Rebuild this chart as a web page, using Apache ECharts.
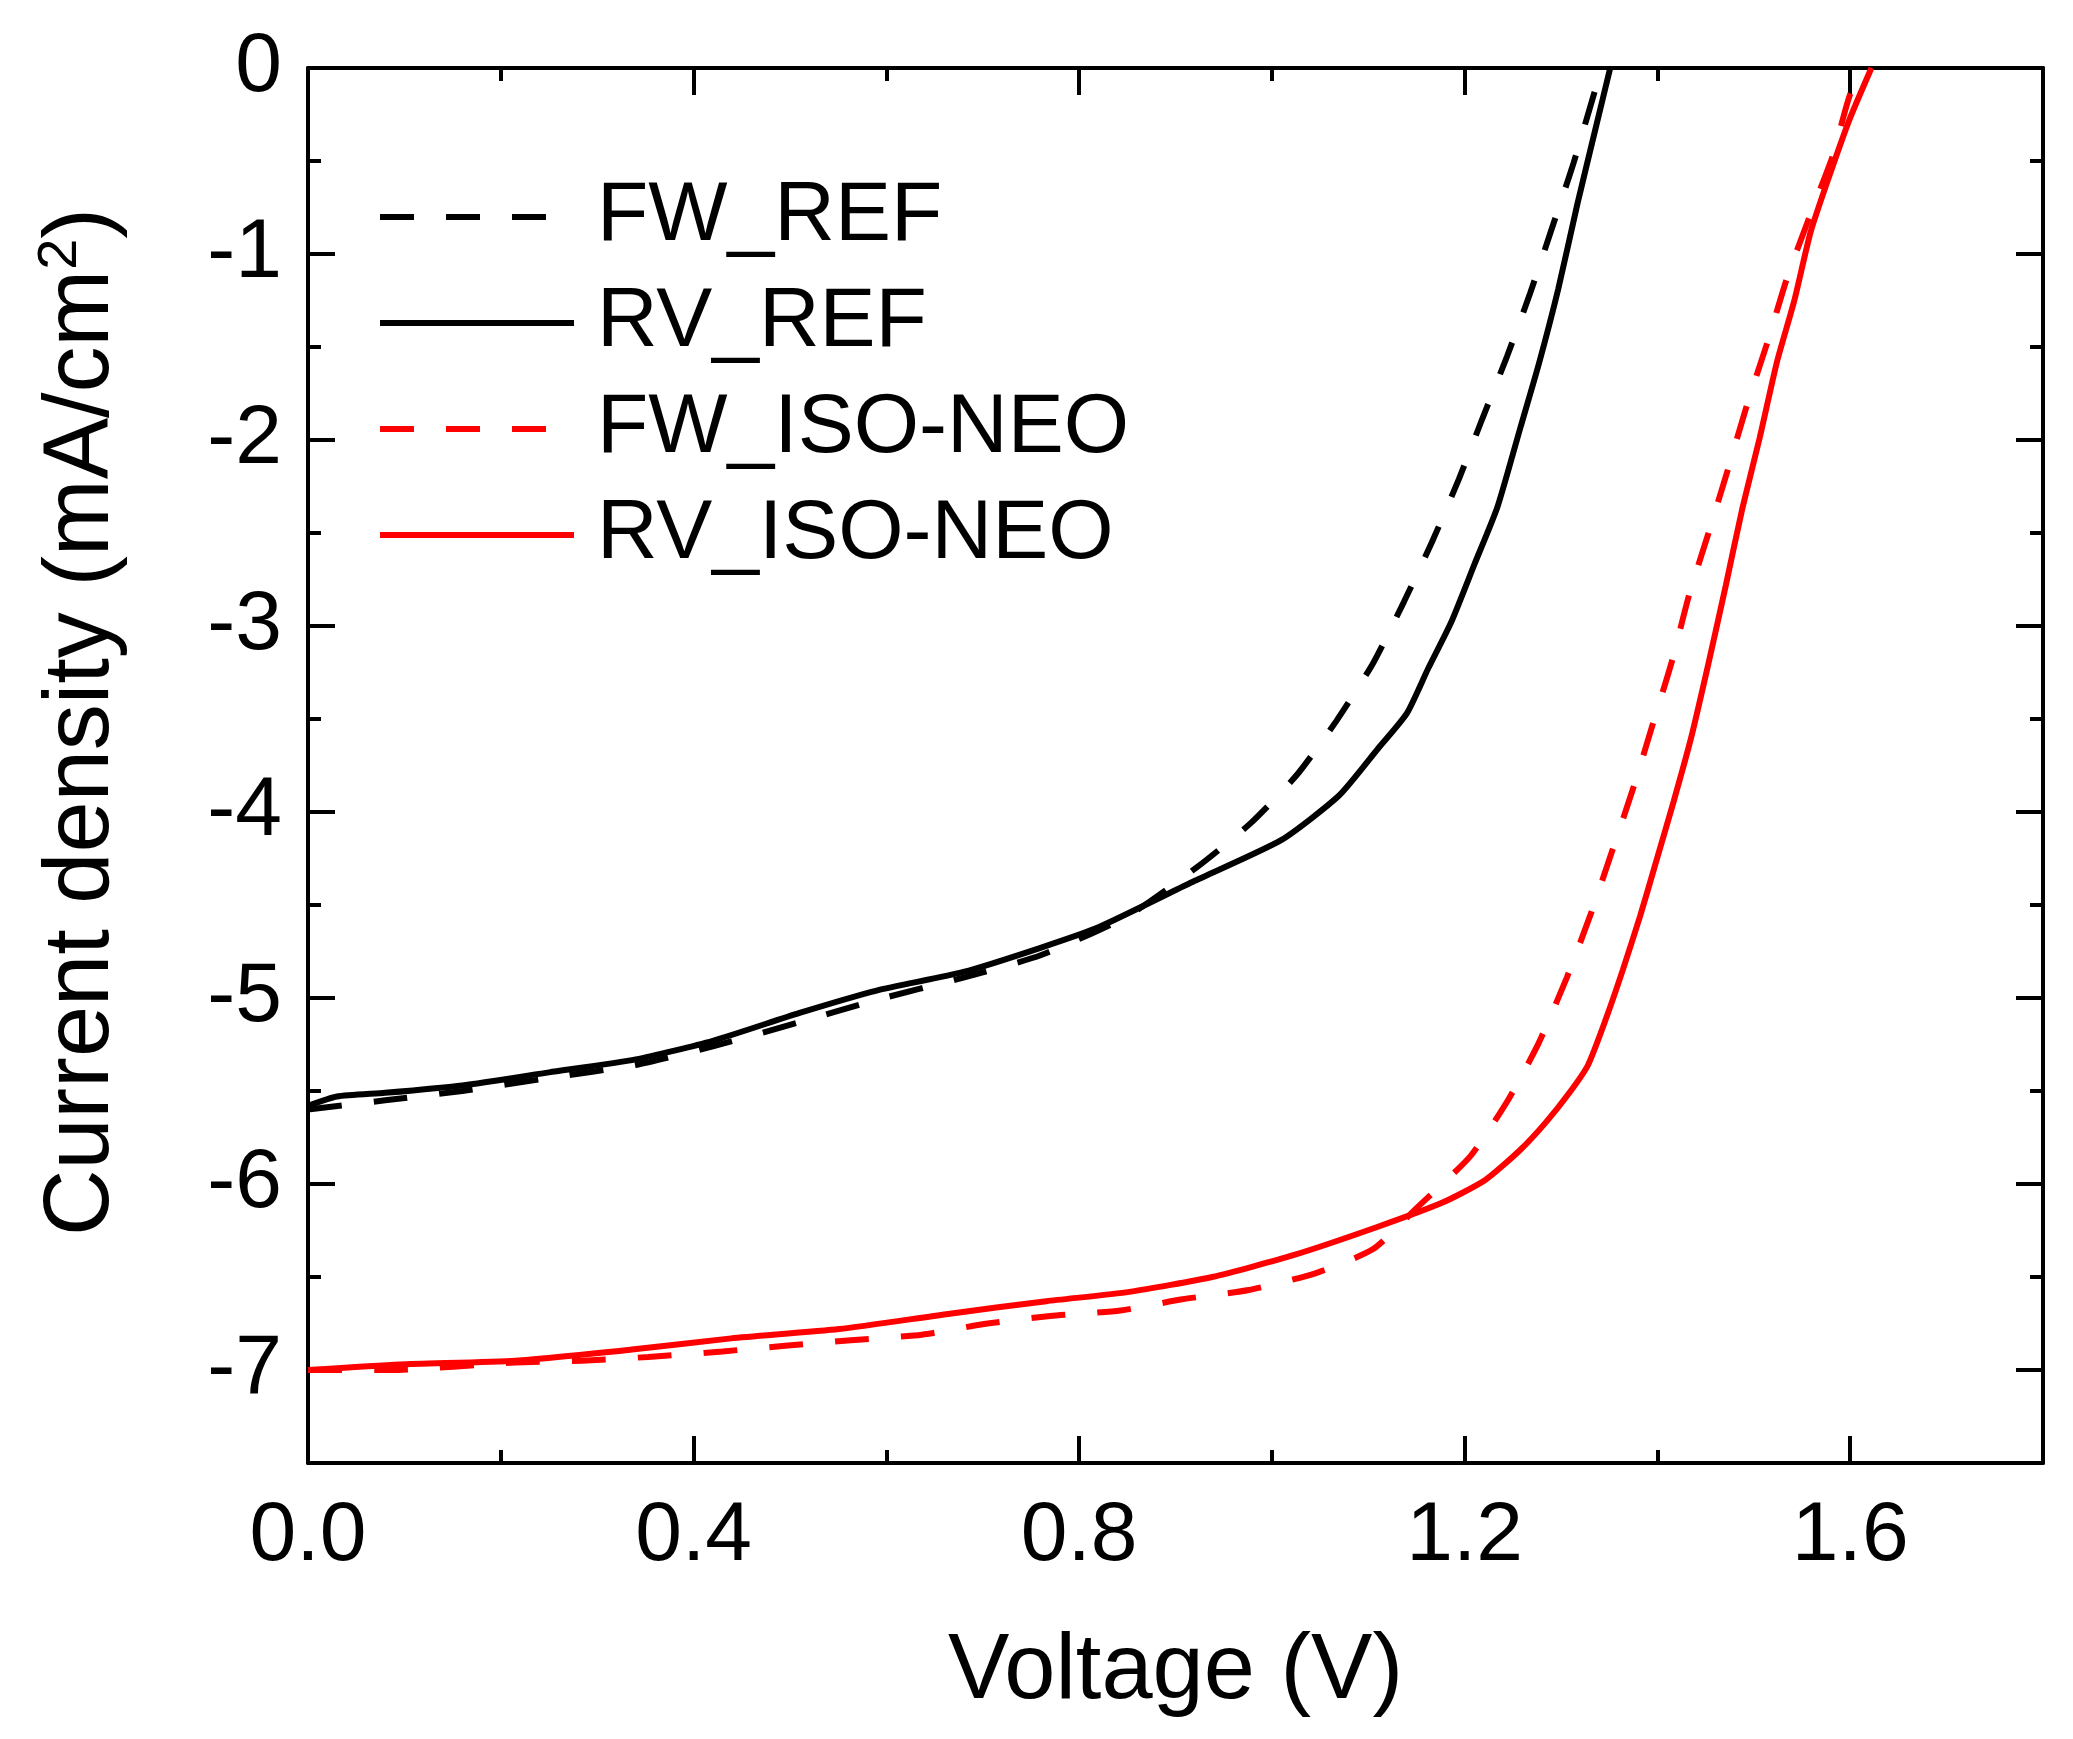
<!DOCTYPE html>
<html>
<head>
<meta charset="utf-8">
<script src="https://cdn.jsdelivr.net/npm/echarts@6/dist/echarts.min.js"></script>
<style>
    html, body { margin:0; padding:0; background:#fff; }
    #chart { width:2073px; height:1739px; }
</style>
</head>
<body>
<div id="chart"></div>
<script>
const FONT = '"Liberation Sans", Arial, sans-serif';

// tick labels
const xTicks = [0, 0.4, 0.8, 1.2, 1.6];
const yTicks = [-7, -6, -5, -4, -3, -2, -1, 0];

// FW_REF (black dashed)
const fwRefV = [0, 0.08, 0.16, 0.25, 0.34, 0.42, 0.51, 0.59, 0.68, 0.76, 0.85, 0.924, 0.978, 1.026, 1.067, 1.105, 1.137, 1.166, 1.194, 1.218, 1.244, 1.268, 1.29, 1.313, 1.342];
const fwRefJ = [-5.60, -5.55, -5.50, -5.43, -5.36, -5.26, -5.13, -5.01, -4.89, -4.77, -4.56, -4.29, -4.06, -3.80, -3.51, -3.20, -2.87, -2.55, -2.21, -1.89, -1.55, -1.21, -0.87, -0.51, 0];

// RV_REF (black solid)
const rvRefV = [0, 0.03, 0.08, 0.16, 0.25, 0.34, 0.42, 0.51, 0.59, 0.68, 0.76, 0.82, 0.92, 1.01, 1.07, 1.11, 1.14, 1.162, 1.186, 1.21, 1.234, 1.258, 1.277, 1.297, 1.317, 1.337, 1.351];
const rvRefJ = [-5.58, -5.53, -5.51, -5.47, -5.40, -5.33, -5.23, -5.08, -4.96, -4.86, -4.73, -4.62, -4.37, -4.15, -3.91, -3.66, -3.47, -3.23, -2.98, -2.67, -2.36, -1.93, -1.59, -1.19, -0.73, -0.30, 0];

// FW_ISO-NEO (red dashed)
const fwIsoV = [0, 0.086, 0.215, 0.284, 0.353, 0.43, 0.495, 0.563, 0.637, 0.705, 0.77, 0.843, 0.907, 0.976, 1.045, 1.105, 1.15, 1.206, 1.246, 1.277, 1.306, 1.330, 1.353, 1.375, 1.395, 1.415, 1.433, 1.453, 1.473, 1.493, 1.515, 1.535, 1.560, 1.582, 1.600, 1.616];
const fwIsoJ = [-7.00, -7.00, -6.96, -6.95, -6.93, -6.90, -6.87, -6.84, -6.81, -6.75, -6.71, -6.68, -6.62, -6.57, -6.48, -6.35, -6.13, -5.85, -5.54, -5.24, -4.89, -4.56, -4.21, -3.87, -3.53, -3.19, -2.83, -2.50, -2.16, -1.81, -1.46, -1.12, -0.77, -0.47, -0.14, 0];

// RV_ISO-NEO (red solid)
const rvIsoV = [0, 0.095, 0.215, 0.336, 0.439, 0.551, 0.662, 0.766, 0.852, 0.938, 1.024, 1.11, 1.177, 1.221, 1.257, 1.284, 1.31, 1.328, 1.346, 1.364, 1.382, 1.399, 1.417, 1.435, 1.453, 1.471, 1.488, 1.506, 1.524, 1.542, 1.559, 1.577, 1.599, 1.622];
const rvIsoJ = [-7.00, -6.97, -6.95, -6.89, -6.83, -6.78, -6.70, -6.63, -6.58, -6.50, -6.38, -6.23, -6.10, -5.98, -5.82, -5.67, -5.50, -5.36, -5.12, -4.85, -4.56, -4.26, -3.94, -3.60, -3.20, -2.78, -2.37, -1.99, -1.58, -1.25, -0.88, -0.60, -0.28, 0];

const zip = (a, b) => a.map((v, i) => [v, b[i]]);

const black = '#000000';
const red = '#ff0000';
const dash = [34, 32];
const lineW = 6;

function xAxisDef(position, interval, tickLen, showLine, showLabel) {
    return {
        type: 'value', position: position, min: 0, max: 1.8, interval: interval,
        axisLine: { show: showLine, onZero: false, lineStyle: { color: black, width: 4 } },
        axisTick: { show: true, inside: true, length: tickLen, lineStyle: { color: black, width: 4 } },
        axisLabel: {
            show: showLabel, fontSize: 84, fontFamily: FONT, color: black, margin: 32,
            showMaxLabel: false,
            formatter: v => v.toFixed(1)
        },
        splitLine: { show: false }
    };
}
function yAxisDef(position, tickLen, showLine, showLabel, major) {
    let tick = { show: true, inside: true, length: tickLen, lineStyle: { color: black, width: 4 } };
    let label = { show: showLabel, fontSize: 84, fontFamily: FONT, color: black, margin: 26 };
    if ( major ) {
        tick.customValues = yTicks;
        label.customValues = yTicks;
    }
    return {
        type: 'value', position: position, min: -7.5, max: 0, interval: 0.5,
        axisLine: { show: showLine, onZero: false, lineStyle: { color: black, width: 4 } },
        axisTick: tick,
        axisLabel: label,
        splitLine: { show: false }
    };
}

let xMain = xAxisDef('bottom', 0.4, 27, true, true);
xMain.name = 'Voltage (V)';
xMain.nameLocation = 'middle';
xMain.nameGap = 164;
xMain.nameTextStyle = { fontSize: 92, fontFamily: FONT, color: black };

let myChart = echarts.init(document.getElementById('chart'));
let option = {
    animation: false,
    backgroundColor: '#ffffff',
    grid: { left: 308, right: 30, top: 68, bottom: 276, containLabel: false },
    xAxis: [
        xMain,
        xAxisDef('bottom', 0.2, 13, false, false),
        xAxisDef('top', 0.4, 27, true, false),
        xAxisDef('top', 0.2, 13, false, false)
    ],
    yAxis: [
        yAxisDef('left', 27, true, true, true),
        yAxisDef('left', 13, false, false, false),
        yAxisDef('right', 27, true, false, true),
        yAxisDef('right', 13, false, false, false)
    ],
    legend: {
        orient: 'vertical', left: 372, top: 170,
        // tiny item height keeps the legend's marker dot hidden under the line
        itemWidth: 194, itemHeight: 2, itemGap: 22,
        lineStyle: { width: lineW },
        textStyle: { fontSize: 84, lineHeight: 84, fontFamily: FONT, color: black, padding: [0, 0, 0, 18] },
        data: ['FW_REF', 'RV_REF', 'FW_ISO-NEO', 'RV_ISO-NEO']
    },
    graphic: [{
        type: 'text', x: 83, y: 722, rotation: Math.PI / 2,
        style: {
            text: '{a|Current density (mA/cm}{s|2}{a|)}',
            align: 'center', verticalAlign: 'middle',
            rich: {
                a: { fontSize: 92, lineHeight: 100, fontFamily: FONT, fill: black },
                s: { fontSize: 56, lineHeight: 56, fontFamily: FONT, fill: black, verticalAlign: 'top' }
            }
        }
    }],
    series: [
        {
            name: 'FW_REF', type: 'line', data: zip(fwRefV, fwRefJ), symbol: 'none', smooth: 0.2,
            lineStyle: { color: black, width: lineW, type: dash, cap: 'butt' }, itemStyle: { color: black }
        },
        {
            name: 'RV_REF', type: 'line', data: zip(rvRefV, rvRefJ), symbol: 'none', smooth: 0.2,
            lineStyle: { color: black, width: lineW }, itemStyle: { color: black }
        },
        {
            name: 'FW_ISO-NEO', type: 'line', data: zip(fwIsoV, fwIsoJ), symbol: 'none', smooth: 0.2,
            lineStyle: { color: red, width: lineW, type: dash, cap: 'butt' }, itemStyle: { color: red }
        },
        {
            name: 'RV_ISO-NEO', type: 'line', data: zip(rvIsoV, rvIsoJ), symbol: 'none', smooth: 0.2,
            lineStyle: { color: red, width: lineW }, itemStyle: { color: red }
        }
    ]
};
myChart.setOption(option);
</script>
</body>
</html>
